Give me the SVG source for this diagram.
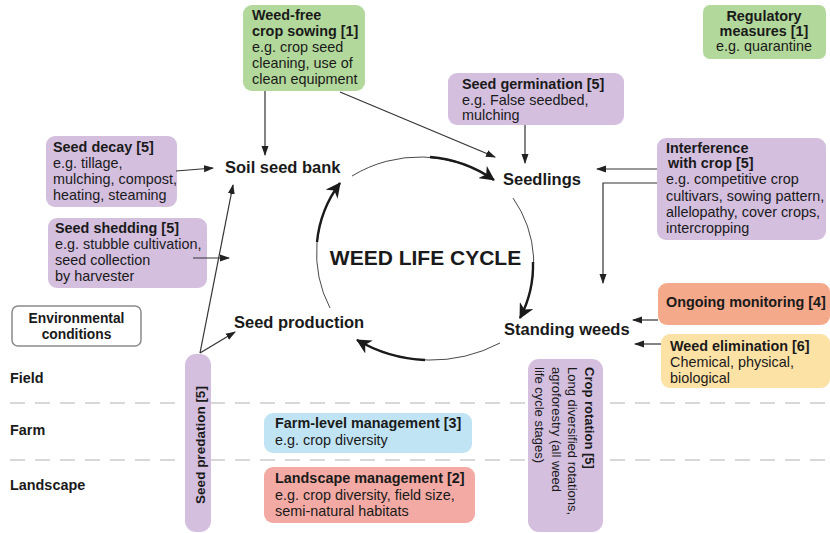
<svg xmlns="http://www.w3.org/2000/svg" width="830" height="533" viewBox="0 0 830 533">
<style>
text{font-family:"Liberation Sans",Arial,sans-serif;fill:#1a1a1a;font-size:14.4px}
.b{font-weight:bold}
.node{font-weight:bold;font-size:16.5px}
.green{fill:#b2d89b}
.purple{fill:#d4bfdf}
.blue{fill:#c1e4f4}
.red{fill:#f3aaa4}
.orange{fill:#f5a98b}
.yellow{fill:#fde2a6}
.dash{stroke:#cccccc;stroke-width:1.3;stroke-dasharray:15 10;fill:none}
.ar{stroke:#333;stroke-width:1.2;fill:none;marker-end:url(#ah)}
.cy{stroke:#1a1a1a;fill:none}
</style>
<defs>
<marker id="ah" markerUnits="userSpaceOnUse" markerWidth="11" markerHeight="9" refX="9" refY="4.5" orient="auto">
<path d="M0,1 L10,4.5 L0,8 z" fill="#222"/>
</marker>
<marker id="bh" markerUnits="userSpaceOnUse" markerWidth="17" markerHeight="15" refX="14" refY="7.5" orient="auto">
<path d="M0,0 L15,7.5 L0,15 L4.5,7.5 z" fill="#1a1a1a"/>
</marker>
</defs>

<g id="gridlines">
<line class="dash" x1="10" y1="403" x2="830" y2="403"/>
<line class="dash" x1="10" y1="460" x2="830" y2="460"/>
</g>

<g id="scale-labels">
<text class="b" x="10" y="383">Field</text>
<text class="b" x="10" y="435">Farm</text>
<text class="b" x="10" y="490">Landscape</text>
</g>

<g id="weed-free">
<rect class="green" x="243" y="5" width="122" height="86" rx="9"/>
<text x="252" y="20"><tspan class="b">Weed-free</tspan><tspan class="b" x="252" dy="16">crop sowing [1]</tspan><tspan x="252" dy="16">e.g. crop seed</tspan><tspan x="252" dy="16">cleaning, use of</tspan><tspan x="252" dy="16">clean equipment</tspan></text>
</g>

<g id="regulatory">
<rect class="green" x="703" y="5" width="123" height="54" rx="7"/>
<text x="764" y="21" text-anchor="middle"><tspan class="b">Regulatory</tspan><tspan class="b" x="764" dy="15">measures [1]</tspan><tspan x="764" dy="15">e.g. quarantine</tspan></text>
</g>

<g id="germination">
<rect class="purple" x="448" y="73" width="176" height="52" rx="9"/>
<text x="462" y="89"><tspan class="b">Seed germination [5]</tspan><tspan x="462" dy="15.5">e.g. False seedbed,</tspan><tspan x="462" dy="15">mulching</tspan></text>
</g>

<g id="decay">
<rect class="purple" x="46" y="136" width="131" height="71" rx="9"/>
<text x="53" y="152"><tspan class="b">Seed decay  [5]</tspan><tspan x="53" dy="16">e.g. tillage,</tspan><tspan x="53" dy="16">mulching, compost,</tspan><tspan x="53" dy="16">heating, steaming</tspan></text>
</g>

<g id="shedding">
<rect class="purple" x="48" y="218" width="159" height="70" rx="9"/>
<text x="55" y="233"><tspan class="b">Seed shedding  [5]</tspan><tspan x="55" dy="16">e.g. stubble cultivation,</tspan><tspan x="55" dy="16">seed collection</tspan><tspan x="55" dy="16">by harvester</tspan></text>
</g>

<g id="environmental">
<rect x="12" y="306" width="129" height="40" rx="6" fill="#fff" stroke="#8a8a8a" stroke-width="1.5"/>
<text class="b" x="76.5" y="323" text-anchor="middle" style="font-size:13.8px">Environmental<tspan x="76.5" dy="15.5">conditions</tspan></text>
</g>

<g id="interference">
<rect class="purple" x="657" y="138" width="169" height="102" rx="9"/>
<text x="666" y="153"><tspan class="b">Interference</tspan><tspan class="b" x="668" dy="15">with crop [5]</tspan><tspan x="666" dy="16">e.g. competitive crop</tspan><tspan x="666" dy="16.5">cultivars, sowing pattern,</tspan><tspan x="666" dy="16">allelopathy, cover crops,</tspan><tspan x="666" dy="16">intercropping</tspan></text>
</g>

<g id="monitoring">
<rect class="orange" x="658" y="283" width="172" height="42" rx="9"/>
<text class="b" x="666" y="307">Ongoing monitoring [4]</text>
</g>

<g id="elimination">
<rect class="yellow" x="661" y="334" width="169" height="54" rx="9"/>
<text x="670" y="351"><tspan class="b">Weed elimination [6]</tspan><tspan x="670" dy="16">Chemical, physical,</tspan><tspan x="670" dy="16">biological</tspan></text>
</g>

<g id="predation">
<rect class="purple" x="185" y="354" width="26" height="178" rx="11"/>
<text class="b" transform="translate(204.5,445) rotate(-90)" text-anchor="middle" style="font-size:13.5px">Seed predation [5]</text>
</g>

<g id="crop-rotation">
<rect class="purple" x="528" y="359" width="75" height="173" rx="11"/>
<g transform="translate(585,367) rotate(90)">
<text x="0" y="0" style="font-size:13px"><tspan class="b">Crop rotation [5]</tspan><tspan x="0" dy="16.7">Long diversified rotations,</tspan><tspan x="0" dy="16.7">agroforestry (all weed</tspan><tspan x="0" dy="16.7">life cycle stages)</tspan></text>
</g>
</g>

<g id="farm-level">
<rect class="blue" x="264" y="413" width="208" height="40" rx="9"/>
<text x="275" y="428"><tspan class="b">Farm-level management [3]</tspan><tspan x="275" dy="17">e.g. crop diversity</tspan></text>
</g>

<g id="landscape">
<rect class="red" x="264" y="467" width="211" height="56" rx="9"/>
<text x="275" y="483"><tspan class="b">Landscape management [2]</tspan><tspan x="275" dy="16.5">e.g. crop diversity, field size,</tspan><tspan x="275" dy="16.5">semi-natural habitats</tspan></text>
</g>

<g id="soil-seed-bank"><text class="node" x="225" y="173">Soil seed bank</text></g>
<g id="seedlings"><text class="node" x="503" y="185">Seedlings</text></g>
<g id="seed-production"><text class="node" x="234" y="328">Seed production</text></g>
<g id="standing-weeds"><text class="node" x="504" y="335">Standing weeds</text></g>
<g id="title"><text class="b" x="425.5" y="265" text-anchor="middle" style="font-size:21px">WEED LIFE CYCLE</text></g>

<g id="connectors">
<path class="cy" stroke-width="0.8" d="M352,176 A130.5,130.5 0 0 1 494,180"/>
<path class="cy" stroke-width="2.4" marker-end="url(#bh)" d="M430,157 A130.5,130.5 0 0 1 494,180"/>
<path class="cy" stroke-width="0.8" d="M513,198 A114,114 0 0 1 520,318"/>
<path class="cy" stroke-width="2.4" marker-end="url(#bh)" d="M533,262 A114,114 0 0 1 520,318"/>
<path class="cy" stroke-width="0.8" d="M500,343 A147,147 0 0 1 357,340"/>
<path class="cy" stroke-width="2.4" marker-end="url(#bh)" d="M425,360 A147,147 0 0 1 357,340"/>
<path class="cy" stroke-width="0.8" d="M330,308 A117.5,117.5 0 0 1 340,183"/>
<path class="cy" stroke-width="2.4" marker-end="url(#bh)" d="M317,242 A117.5,117.5 0 0 1 340,183"/>
<line class="ar" x1="265" y1="91" x2="265" y2="155"/>
<line class="ar" x1="340" y1="92" x2="495" y2="157"/>
<line class="ar" x1="525" y1="125" x2="525" y2="163"/>
<line class="ar" x1="176" y1="171" x2="213" y2="168"/>
<line class="ar" x1="193" y1="258" x2="229" y2="258"/>
<line class="ar" x1="200" y1="353" x2="233" y2="185"/>
<line class="ar" x1="200" y1="353" x2="235" y2="332"/>
<line class="ar" x1="657" y1="169" x2="597" y2="169"/>
<polyline class="ar" points="657,183 603,183 603,283"/>
<line class="ar" x1="658" y1="320" x2="633" y2="320"/>
<line class="ar" x1="661" y1="344" x2="635" y2="344"/>
</g>
</svg>
